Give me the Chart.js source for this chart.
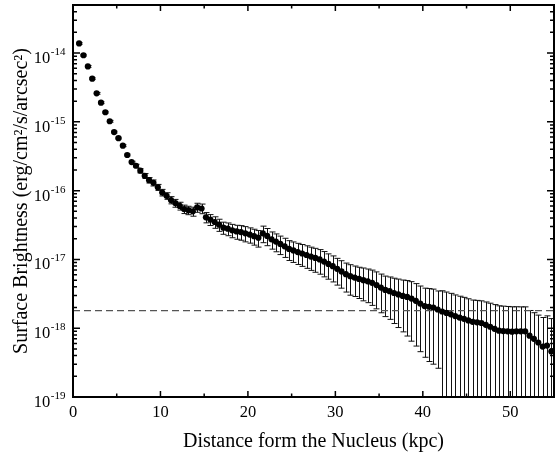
<!DOCTYPE html>
<html>
<head>
<meta charset="utf-8">
<script src="https://cdn.jsdelivr.net/npm/chart.js@4.4.1/dist/chart.umd.min.js"></script>
<style>
  html, body { margin: 0; padding: 0; background: #fff; }
  #wrap { width: 560px; height: 456px; }
</style>
</head>
<body>
<div id="wrap"><canvas id="profile"></canvas></div>
<script>
// Radial distance of each annulus (kpc)
var distKpc = [
    0.7, 1.2, 1.7, 2.2, 2.7, 3.2, 3.7, 4.2, 4.7, 5.2,
    5.7, 6.2, 6.7, 7.2, 7.7, 8.2, 8.7, 9.2, 9.7, 10.2,
    10.7, 11.2, 11.7, 12.2, 12.7, 13.2, 13.7, 14.2, 14.7, 15.2,
    15.7, 16.2, 16.7, 17.2, 17.7, 18.2, 18.7, 19.2, 19.7, 20.2,
    20.7, 21.2, 21.7, 22.2, 22.7, 23.2, 23.7, 24.2, 24.7, 25.2,
    25.7, 26.2, 26.7, 27.2, 27.7, 28.2, 28.7, 29.2, 29.7, 30.2,
    30.7, 31.2, 31.7, 32.2, 32.7, 33.2, 33.7, 34.2, 34.7, 35.2,
    35.7, 36.2, 36.7, 37.2, 37.7, 38.2, 38.7, 39.2, 39.7, 40.2,
    40.7, 41.2, 41.7, 42.2, 42.7, 43.2, 43.7, 44.2, 44.7, 45.2,
    45.7, 46.2, 46.7, 47.2, 47.7, 48.2, 48.7, 49.2, 49.7, 50.2,
    50.7, 51.2, 51.7, 52.2, 52.7, 53.2, 53.7, 54.2, 54.7
];

// Surface brightness (erg/cm^2/s/arcsec^2)
var brightness = [
    1.38e-14, 9.3e-15, 6.4e-15, 4.25e-15, 2.6e-15, 1.9e-15, 1.38e-15, 1.02e-15, 7.1e-16, 5.8e-16,
    4.5e-16, 3.3e-16, 2.6e-16, 2.3e-16, 1.95e-16, 1.64e-16, 1.42e-16, 1.3e-16, 1.12e-16, 9.4e-17,
    8.4e-17, 7.3e-17, 6.6e-17, 6.0e-17, 5.4e-17, 5.2e-17, 5.0e-17, 5.7e-17, 5.5e-17, 4.1e-17,
    3.8e-17, 3.5e-17, 3.2e-17, 2.9e-17, 2.8e-17, 2.65e-17, 2.55e-17, 2.5e-17, 2.4e-17, 2.3e-17,
    2.18e-17, 2.07e-17, 2.4e-17, 2.2e-17, 1.96e-17, 1.82e-17, 1.68e-17, 1.55e-17, 1.42e-17, 1.35e-17,
    1.28e-17, 1.22e-17, 1.16e-17, 1.1e-17, 1.05e-17, 1.0e-17, 9.3e-18, 8.6e-18, 7.98e-18, 7.3e-18,
    6.7e-18, 6.1e-18, 5.7e-18, 5.45e-18, 5.2e-18, 5.0e-18, 4.8e-18, 4.57e-18, 4.25e-18, 3.9e-18,
    3.6e-18, 3.45e-18, 3.25e-18, 3.1e-18, 2.95e-18, 2.85e-18, 2.7e-18, 2.5e-18, 2.28e-18, 2.1e-18,
    2.05e-18, 2.0e-18, 1.87e-18, 1.75e-18, 1.67e-18, 1.59e-18, 1.5e-18, 1.43e-18, 1.37e-18, 1.3e-18,
    1.24e-18, 1.22e-18, 1.19e-18, 1.12e-18, 1.05e-18, 9.8e-19, 9.2e-19, 9.1e-19, 9.0e-19, 8.9e-19,
    9.0e-19, 9.0e-19, 9.0e-19, 7.8e-19, 7.0e-19, 6.2e-19, 5.4e-19, 5.6e-19, 4.6e-19
];

// 1-sigma error, as a fraction of the brightness
var relErr = [
    0.03, 0.03, 0.03, 0.03, 0.03, 0.03, 0.03, 0.03, 0.03, 0.03,
    0.03, 0.03, 0.03, 0.05, 0.07, 0.08, 0.09, 0.1, 0.1, 0.11,
    0.11, 0.12, 0.13, 0.13, 0.14, 0.14, 0.15, 0.15, 0.16, 0.17,
    0.18, 0.19, 0.2, 0.2, 0.21, 0.22, 0.23, 0.24, 0.25, 0.25,
    0.26, 0.27, 0.27, 0.28, 0.28, 0.29, 0.3, 0.31, 0.32, 0.33,
    0.34, 0.35, 0.36, 0.37, 0.38, 0.39, 0.4, 0.4, 0.41, 0.42,
    0.43, 0.45, 0.47, 0.47, 0.48, 0.5, 0.51, 0.53, 0.55, 0.57,
    0.59, 0.61, 0.64, 0.67, 0.7, 0.73, 0.76, 0.78, 0.8, 0.82,
    0.84, 0.85, 0.86, 1.0, 1.01, 1.02, 1.03, 1.04, 1.05, 1.06,
    1.07, 1.08, 1.1, 1.15, 1.2, 1.25, 1.3, 1.3, 1.3, 1.3,
    1.28, 1.27, 1.27, 1.32, 1.4, 1.5, 1.65, 1.7, 2.0
];

// Background level (dashed line)
var bgLevel = 1.8e-18;

var xRange = [0, 55];
var yRange = [1e-19, 5e-14];
var yDecades = [1e-19, 1e-18, 1e-17, 1e-16, 1e-15, 1e-14];

var FONT = "'Liberation Serif', 'Times New Roman', serif";

// Error bars, drawn under the points
var errorBars = {
    id: 'errorBars',
    beforeDatasetsDraw: function (chart) {
        var ctx = chart.ctx, a = chart.chartArea, x = chart.scales.x, y = chart.scales.y;
        ctx.save();
        ctx.beginPath();
        ctx.rect(a.left, a.top, a.right - a.left, a.bottom - a.top);
        ctx.clip();
        ctx.strokeStyle = '#111';
        ctx.lineWidth = 1;
        ctx.beginPath();
        for (var i = 0; i < distKpc.length; i++) {
            var v = brightness[i], e = v * relErr[i];
            var px = Math.round(x.getPixelForValue(distKpc[i])) + 0.5;
            var yTop = y.getPixelForValue(v + e);
            var clipped = v - e <= 0;
            var yBot = clipped ? a.bottom : y.getPixelForValue(v - e);
            ctx.moveTo(px, yTop); ctx.lineTo(px, yBot);
            ctx.moveTo(px - 3, yTop); ctx.lineTo(px + 3, yTop);
            if (!clipped) { ctx.moveTo(px - 3, yBot); ctx.lineTo(px + 3, yBot); }
        }
        ctx.stroke();
        ctx.restore();
    }
};

// Box frame with inward ticks on all four sides, plus 10^n labels on y
var frameTicks = {
    id: 'frameTicks',
    afterDraw: function (chart) {
        var ctx = chart.ctx, a = chart.chartArea, x = chart.scales.x, y = chart.scales.y;
        ctx.save();
        ctx.strokeStyle = '#000';
        ctx.lineWidth = 1.5;
        ctx.beginPath();
        for (var k = xRange[0]; k <= xRange[1]; k += 5) {
            var px = x.getPixelForValue(k);
            var len = k % 10 === 0 ? 6 : 3.5;
            ctx.moveTo(px, a.bottom); ctx.lineTo(px, a.bottom - len);
            ctx.moveTo(px, a.top); ctx.lineTo(px, a.top + len);
        }
        for (var ex = -19; ex <= -14; ex++) {
            for (var m = 1; m <= 9; m++) {
                var val = m * Math.pow(10, ex);
                if (val > yRange[1] * 1.001) break;
                var py = y.getPixelForValue(val);
                var l = m === 1 ? 7 : 4;
                ctx.moveTo(a.left, py); ctx.lineTo(a.left + l, py);
                ctx.moveTo(a.right, py); ctx.lineTo(a.right - l, py);
            }
        }
        ctx.stroke();
        ctx.lineWidth = 2;
        ctx.strokeRect(a.left, a.top, a.right - a.left, a.bottom - a.top);

        // y tick labels: "10" with a raised exponent
        ctx.fillStyle = '#000';
        ctx.textBaseline = 'alphabetic';
        ctx.textAlign = 'left';
        yDecades.forEach(function (v) {
            var py = y.getPixelForValue(v);
            var expText = String(Math.round(Math.log10(v)));
            ctx.font = '16.5px ' + FONT;
            var wBase = ctx.measureText('10').width;
            ctx.font = '11px ' + FONT;
            var wExp = ctx.measureText(expText).width;
            var right = a.left - 8;
            var left = right - wBase - wExp;
            ctx.font = '16.5px ' + FONT;
            ctx.fillText('10', left, py + 10);
            ctx.font = '11px ' + FONT;
            ctx.fillText(expText, left + wBase + 0.5, py + 2);
        });
        ctx.restore();
    }
};

var points = distKpc.map(function (d, i) { return {x: d, y: brightness[i]}; });

new Chart(document.getElementById('profile').getContext('2d'), {
    type: 'scatter',
    data: {
        datasets: [
            {
                data: points,
                backgroundColor: '#000',
                borderWidth: 0,
                pointRadius: 3.1,
                showLine: false
            },
            {
                type: 'line',
                data: [{x: xRange[0], y: bgLevel}, {x: xRange[1], y: bgLevel}],
                borderColor: '#555',
                borderWidth: 1.3,
                borderDash: [7, 4],
                pointRadius: 0,
                fill: false
            }
        ]
    },
    options: {
        responsive: true,
        maintainAspectRatio: false,
        animation: false,
        events: [],
        layout: { padding: { top: 5, right: 2, left: 0, bottom: 0 } },
        plugins: { legend: { display: false }, tooltip: { enabled: false } },
        scales: {
            x: {
                type: 'linear',
                min: xRange[0],
                max: xRange[1],
                grid: { display: false, drawTicks: false },
                border: { display: false },
                afterFit: function (s) { s.height = 59; },
                ticks: {
                    stepSize: 10,
                    autoSkip: false,
                    maxRotation: 0,
                    padding: 6,
                    color: '#000',
                    font: { family: FONT, size: 16.5 },
                    callback: function (v) { return v % 10 === 0 ? String(v) : ''; }
                },
                title: {
                    display: true,
                    text: 'Distance form the Nucleus (kpc)',
                    color: '#000',
                    font: { family: FONT, size: 20 },
                    padding: { top: 0, bottom: 2 }
                }
            },
            y: {
                type: 'logarithmic',
                min: yRange[0],
                max: yRange[1],
                grid: { display: false, drawTicks: false },
                border: { display: false },
                afterFit: function (s) { s.width = 73; },
                ticks: { display: false },
                title: {
                    display: true,
                    text: 'Surface Brightness (erg/cm\u00B2/s/arcsec\u00B2)',
                    color: '#000',
                    font: { family: FONT, size: 20 },
                    padding: { top: 10, bottom: 0 }
                }
            }
        }
    },
    plugins: [errorBars, frameTicks]
});
</script>
</body>
</html>
